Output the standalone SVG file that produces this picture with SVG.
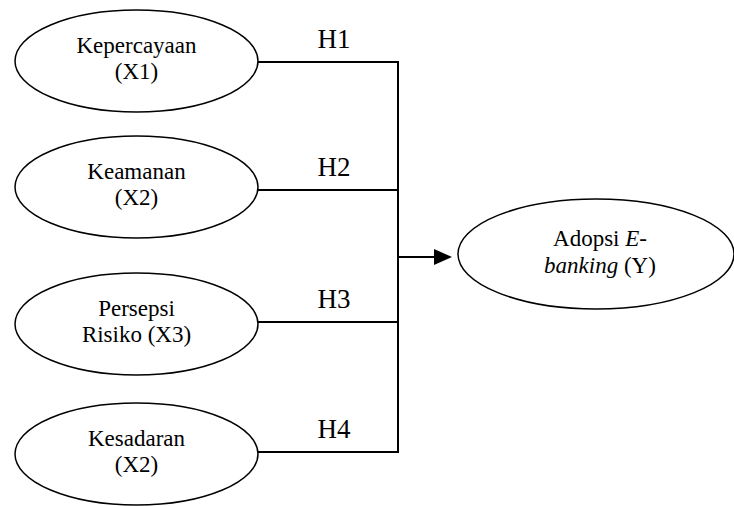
<svg xmlns="http://www.w3.org/2000/svg" width="734" height="506" viewBox="0 0 734 506">
<style>
.n{fill:#fff;stroke:#000;stroke-width:1.5}
.t{font-family:"Liberation Serif","Times New Roman",serif;font-size:23px;fill:#000;text-anchor:middle}
.h{font-family:"Liberation Serif","Times New Roman",serif;font-size:27px;fill:#000;text-anchor:middle}
.c{fill:none;stroke:#000;stroke-width:2}
</style>
<g id="connectors">
<path class="c" d="M258,62 H398 M258,190 H398 M258,322 H398 M258,452 H398 M398,61 V453"/>
<path class="c" d="M398,257 H436"/>
<path d="M434,249 L452,257 L434,265 Z" fill="#000"/>
<text class="h" x="334" y="48">H1</text>
<text class="h" x="334" y="176">H2</text>
<text class="h" x="334" y="308">H3</text>
<text class="h" x="334" y="438">H4</text>
</g>
<g id="x1">
<ellipse class="n" cx="136.5" cy="61" rx="121.5" ry="51"/>
<text class="t" x="136.5" y="53">Kepercayaan</text>
<text class="t" x="136.5" y="79">(X1)</text>
</g>
<g id="x2">
<ellipse class="n" cx="136.5" cy="187" rx="121.5" ry="51"/>
<text class="t" x="136.5" y="179">Keamanan</text>
<text class="t" x="136.5" y="205">(X2)</text>
</g>
<g id="x3">
<ellipse class="n" cx="136.5" cy="324" rx="121.5" ry="51"/>
<text class="t" x="136.5" y="316">Persepsi</text>
<text class="t" x="136.5" y="342">Risiko (X3)</text>
</g>
<g id="x4">
<ellipse class="n" cx="136.5" cy="454" rx="121.5" ry="51"/>
<text class="t" x="136.5" y="446">Kesadaran</text>
<text class="t" x="136.5" y="472">(X2)</text>
</g>
<g id="y">
<ellipse class="n" cx="596" cy="254" rx="138" ry="55"/>
<text class="t" x="600" y="246">Adopsi <tspan font-style="italic">E</tspan>-</text>
<text class="t" x="600" y="273"><tspan font-style="italic">banking</tspan> (Y)</text>
</g>
</svg>
